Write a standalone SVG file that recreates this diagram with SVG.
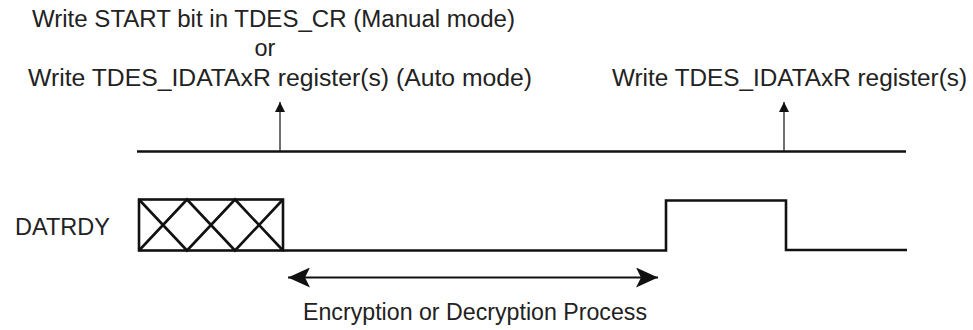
<svg xmlns="http://www.w3.org/2000/svg" width="973" height="330" viewBox="0 0 973 330">
<defs>
<style>
text{font-family:"Liberation Sans",Arial,sans-serif;font-size:23.5px;fill:#222;}
.sig{fill:none;stroke:#111;stroke-width:2.6;}
.thin{fill:none;stroke:#222;stroke-width:1.3;}
.dbl{fill:none;stroke:#111;stroke-width:2.2;}
</style>
<marker id="up" viewBox="0 0 10 10" refX="10" refY="5" markerWidth="10" markerHeight="10" markerUnits="userSpaceOnUse" orient="auto"><path d="M0,0 L10,5 L0,10 Z" fill="#111"/></marker>
<marker id="big" viewBox="0 0 22 20" refX="22" refY="10" markerWidth="22" markerHeight="20" markerUnits="userSpaceOnUse" orient="auto-start-reverse"><path d="M0,0 L22,10 L0,20 L5,10 Z" fill="#111"/></marker>
</defs>
<g id="label-start">
<text x="32" y="27" textLength="483" lengthAdjust="spacingAndGlyphs">Write START bit in TDES_CR (Manual mode)</text>
<text x="265" y="56" text-anchor="middle">or</text>
<text x="28" y="86" textLength="504" lengthAdjust="spacingAndGlyphs">Write TDES_IDATAxR register(s) (Auto mode)</text>
</g>
<g id="label-write">
<text x="612" y="86" textLength="355" lengthAdjust="spacingAndGlyphs">Write TDES_IDATAxR register(s)</text>
</g>
<g id="label-datrdy"><text x="15" y="235" textLength="95" lengthAdjust="spacingAndGlyphs">DATRDY</text></g>
<g id="label-process"><text x="303" y="320" textLength="344" lengthAdjust="spacingAndGlyphs">Encryption or Decryption Process</text></g>
<g id="timeline"><line class="sig" x1="137" y1="151.5" x2="906" y2="151.5"/></g>
<g id="datrdy-signal">
<rect class="sig" x="139" y="199.5" width="144" height="51"/>
<path class="sig" d="M139,199.5 L187,250.5 L235,199.5 L283,250.5 M139,250.5 L187,199.5 L235,250.5 L283,199.5"/>
<path class="sig" d="M283,250.5 H666 V200.5 H786 V250 H907"/>
</g>
<g id="connectors">
<line class="thin" x1="280" y1="151" x2="280" y2="102" marker-end="url(#up)"/>
<line class="thin" x1="784" y1="151" x2="784" y2="102" marker-end="url(#up)"/>
<line class="dbl" x1="288" y1="277.5" x2="658" y2="277.5" marker-start="url(#big)" marker-end="url(#big)"/>
</g>
</svg>
